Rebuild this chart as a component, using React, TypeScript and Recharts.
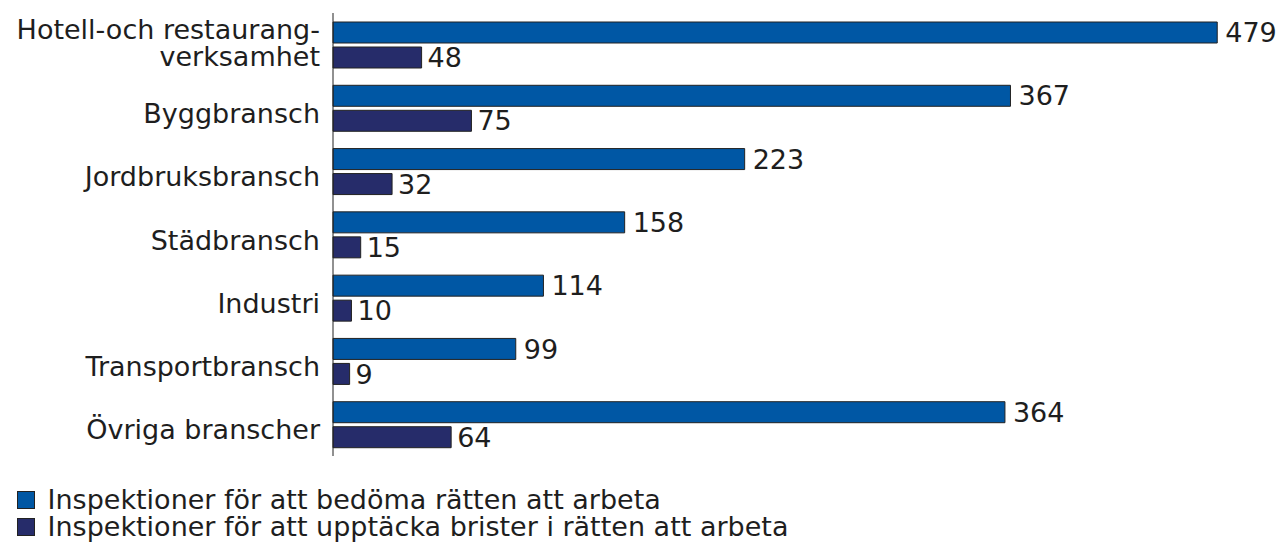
import React from "react";
import { BarChart, Bar, XAxis, YAxis, Legend, LabelList } from "recharts";

const categories = [
  "Hotell-och restaurang-\nverksamhet",
  "Byggbransch",
  "Jordbruksbransch",
  "Städbransch",
  "Industri",
  "Transportbransch",
  "Övriga branscher",
];
const bedoma = [479, 367, 223, 158, 114, 99, 364];
const upptacka = [48, 75, 32, 15, 10, 9, 64];
const seriesNames = [
  "Inspektioner för att bedöma rätten att arbeta",
  "Inspektioner för att upptäcka brister i rätten att arbeta",
];
const seriesColors = ["#0057A4", "#262C6A"];

const data = categories.map((c, i) => ({ cat: c, bedoma: bedoma[i], upptacka: upptacka[i] }));

const FONT = "'DejaVu Sans', sans-serif";
const TEXT = "#1e1e1e";

const CategoryTick = (props: any) => {
  const { x, y, payload } = props;
  const lines: string[] = String(payload.value).split("\n");
  const baselines = lines.length === 1 ? [y + 15] : [y - 5.3, y + 21.1];
  return (
    <text textAnchor="end" fontFamily={FONT} fontSize={27} fill={TEXT}>
      {lines.map((l, i) => (
        <tspan key={i} x={x} y={baselines[i]}>
          {l}
        </tspan>
      ))}
    </text>
  );
};

const LegendContent = () => (
  <div
    style={{
      height: 88,
      paddingTop: 31,
      boxSizing: "border-box",
      fontFamily: FONT,
      fontSize: 27,
      lineHeight: "26px",
      color: TEXT,
    }}
  >
    {seriesNames.map((n, i) => (
      <div key={i} style={{ display: "flex", alignItems: "center", height: 26.4, marginLeft: 8.5, whiteSpace: "nowrap" }}>
        <span
          style={{
            display: "inline-block",
            flex: "0 0 auto",
            width: 18,
            height: 18,
            background: seriesColors[i],
            border: "1px solid #222",
            boxSizing: "border-box",
            marginRight: 13,
          }}
        />
        <span style={{ lineHeight: "26px" }}>{n}</span>
      </div>
    ))}
  </div>
);

export default function App() {
  return (
    <div style={{ width: 1270, height: 536, fontFamily: FONT }}>
      <BarChart
        width={1270}
        height={536}
        data={data}
        layout="vertical"
        margin={{ top: 5, right: 22, bottom: 0, left: 0 }}
        barSize={21}
        barGap={4}
      >
        <XAxis type="number" domain={[0, 500]} hide />
        <YAxis
          type="category"
          dataKey="cat"
          width={325}
          tickLine={false}
          tickSize={0}
          tickMargin={13}
          axisLine={{ stroke: "#222", strokeWidth: 1 }}
          tick={<CategoryTick />}
          interval={0}
        />
        <Legend
          verticalAlign="bottom"
          align="left"
          content={<LegendContent />}
          wrapperStyle={{ left: 0, bottom: 0, width: 900 }}
        />
        <Bar dataKey="bedoma" name={seriesNames[0]} fill={seriesColors[0]} stroke="#222" strokeWidth={1} isAnimationActive={false}>
          <LabelList dataKey="bedoma" position="right" offset={8} fill={TEXT} fontSize={27} fontFamily={FONT} />
        </Bar>
        <Bar dataKey="upptacka" name={seriesNames[1]} fill={seriesColors[1]} stroke="#222" strokeWidth={1} isAnimationActive={false}>
          <LabelList dataKey="upptacka" position="right" offset={6} fill={TEXT} fontSize={27} fontFamily={FONT} />
        </Bar>
      </BarChart>
    </div>
  );
}
